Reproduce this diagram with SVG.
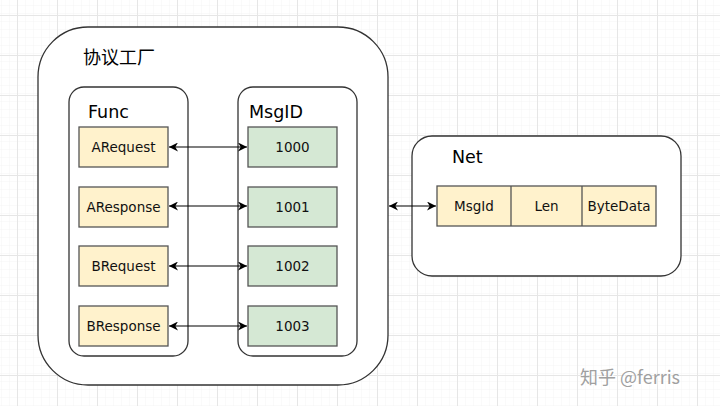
<svg xmlns="http://www.w3.org/2000/svg" width="720" height="406" viewBox="0 0 720 406">
<defs>
<pattern id="minor" x="17" y="15" width="8" height="8" patternUnits="userSpaceOnUse">
<path d="M8 0V8M0 8H8" fill="none" stroke="#f4f4f4" stroke-width="1"/>
</pattern>
<pattern id="major" x="17" y="15" width="40" height="40" patternUnits="userSpaceOnUse">
<rect width="40" height="40" fill="url(#minor)"/>
<path d="M0.5 0V40M0 0.5H40" fill="none" stroke="#e6e6e6" stroke-width="1"/>
</pattern>
<marker id="ah" viewBox="0 0 10 10" refX="10" refY="5" markerWidth="9" markerHeight="9" markerUnits="userSpaceOnUse" orient="auto-start-reverse">
<path d="M0 0L10 5L0 10L3 5Z" fill="#000"/>
</marker>
<style>
.cont{fill:#fff;stroke:#333;stroke-width:1.3}
.yel{fill:#fff2cc;stroke:#555;stroke-width:1.3}
.grn{fill:#d5e8d4;stroke:#555;stroke-width:1.3}
.lbl{font-family:"DejaVu Sans",Verdana,sans-serif;font-size:13.5px;fill:#111;text-anchor:middle;dominant-baseline:central}
.ttl{font-family:"DejaVu Sans",Verdana,sans-serif;font-size:17.5px;fill:#000}
.cjk{font-family:"Noto Sans CJK SC","Noto Sans",sans-serif;font-size:18px;fill:#000}
.conn{stroke:#000;stroke-width:1.2;fill:none;marker-start:url(#ah);marker-end:url(#ah)}
</style>
</defs>
<rect width="720" height="406" fill="#fff"/>
<rect width="720" height="406" fill="url(#major)"/>

<g id="factory">
<rect class="cont" x="38" y="27" width="350" height="358" rx="50" ry="50"/>
<text class="cjk" x="83" y="64">协议工厂</text>
</g>
<g id="func">
<rect class="cont" x="69" y="87" width="119" height="269" rx="15" ry="15"/>
<text class="ttl" x="88" y="118">Func</text>
</g>
<g id="msgid">
<rect class="cont" x="238" y="87" width="119" height="269" rx="15" ry="15"/>
<text class="ttl" x="249" y="118">MsgID</text>
</g>
<g id="arequest"><rect class="yel" x="79" y="127" width="89" height="40"/><text class="lbl" x="123.5" y="147">ARequest</text></g>
<g id="aresponse"><rect class="yel" x="79" y="187" width="89" height="40"/><text class="lbl" x="123.5" y="207">AResponse</text></g>
<g id="brequest"><rect class="yel" x="79" y="246" width="89" height="40"/><text class="lbl" x="123.5" y="266">BRequest</text></g>
<g id="bresponse"><rect class="yel" x="79" y="306" width="89" height="40"/><text class="lbl" x="123.5" y="326">BResponse</text></g>
<g id="id1000"><rect class="grn" x="248" y="127" width="89" height="40"/><text class="lbl" x="292.5" y="147">1000</text></g>
<g id="id1001"><rect class="grn" x="248" y="187" width="89" height="40"/><text class="lbl" x="292.5" y="207">1001</text></g>
<g id="id1002"><rect class="grn" x="248" y="246" width="89" height="40"/><text class="lbl" x="292.5" y="266">1002</text></g>
<g id="id1003"><rect class="grn" x="248" y="306" width="89" height="40"/><text class="lbl" x="292.5" y="326">1003</text></g>

<g id="net">
<rect class="cont" x="412" y="136" width="269" height="140" rx="20" ry="20"/>
<text class="ttl" x="452" y="163">Net</text>
</g>
<g id="packet">
<rect class="yel" x="437" y="186" width="219" height="40"/>
<path d="M511 186V226M582 186V226" stroke="#555" stroke-width="1.3"/>
<text class="lbl" x="474" y="206">MsgId</text>
<text class="lbl" x="546.5" y="206">Len</text>
<text class="lbl" x="619" y="206">ByteData</text>
</g>

<g id="connectors">
<line class="conn" x1="169" y1="147" x2="247" y2="147"/>
<line class="conn" x1="169" y1="206" x2="247" y2="206"/>
<line class="conn" x1="169" y1="266" x2="247" y2="266"/>
<line class="conn" x1="169" y1="326" x2="247" y2="326"/>
<line class="conn" x1="389" y1="206" x2="436" y2="206"/>
</g>

<g id="watermark">
<text x="581" y="385" font-family="Noto Sans CJK SC,sans-serif" font-size="18" fill="#fff">知乎 @ferris</text>
<text x="580" y="384" font-family="Noto Sans CJK SC,sans-serif" font-size="18" fill="#a0a0a0">知乎 @ferris</text>
</g>
</svg>
